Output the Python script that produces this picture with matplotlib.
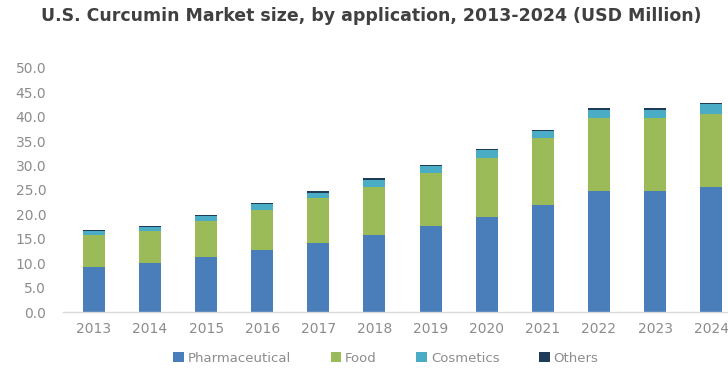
import matplotlib
matplotlib.use("Agg")
import matplotlib.pyplot as plt
import numpy as np

years = ["2013", "2014", "2015", "2016", "2017", "2018",
         "2019", "2020", "2021", "2022", "2023", "2024"]
pharmaceutical = [9.2, 10.0, 11.3, 12.7, 14.1, 15.8, 17.6, 19.5, 21.9, 24.8, 24.8, 25.7]
food = [6.6, 6.6, 7.4, 8.2, 9.2, 9.9, 10.8, 12.0, 13.7, 14.9, 14.9, 14.8]
cosmetics = [0.8, 0.9, 0.9, 1.2, 1.1, 1.4, 1.5, 1.6, 1.4, 1.7, 1.7, 2.1]
others = [0.2, 0.2, 0.3, 0.3, 0.3, 0.3, 0.3, 0.3, 0.3, 0.3, 0.3, 0.3]
yticks = [0, 5, 10, 15, 20, 25, 30, 35, 40, 45, 50]

series = [
    ("Pharmaceutical", pharmaceutical, "#4a7ebb"),
    ("Food", food, "#9bbb59"),
    ("Cosmetics", cosmetics, "#4bacc6"),
    ("Others", others, "#1f3b5a"),
]

fig = plt.figure(figsize=(7.28, 3.71), dpi=100)
ax = fig.add_axes([0.0865, 0.159, 0.9135, 0.658])

x = np.arange(len(years))
bottom = np.zeros(len(years))
for name, vals, color in series:
    ax.bar(x, vals, width=0.39, bottom=bottom, color=color, label=name,
           linewidth=0)
    bottom += np.array(vals)

ax.set_ylim(0, 50)
ax.set_xlim(-0.55, 11.3)
ax.set_yticks(yticks)
ax.set_yticklabels([f"{v:.1f}" for v in yticks])
ax.set_xticks(x)
ax.set_xticklabels(years)

for side in ("top", "right", "left"):
    ax.spines[side].set_visible(False)
ax.spines["bottom"].set_color("#d9d9d9")
ax.spines["bottom"].set_linewidth(1.0)
ax.tick_params(axis="both", length=0, colors="#8c8c8c", labelsize=10)
ax.tick_params(axis="y", pad=12)
ax.tick_params(axis="x", pad=7)

fig.text(0.51, 0.958, "U.S. Curcumin Market size, by application, 2013-2024 (USD Million)",
         ha="center", va="center", fontsize=12.5, fontweight="bold",
         color="#404040", family="DejaVu Sans")

leg = fig.legend(loc="center", bbox_to_anchor=(0.53, 0.035), ncol=4,
                 frameon=False, fontsize=9.5, handlelength=0.8, handleheight=0.8,
                 handletextpad=0.3, columnspacing=3.0)
for t in leg.get_texts():
    t.set_color("#8c8c8c")

fig.savefig("out.png", dpi=100)
